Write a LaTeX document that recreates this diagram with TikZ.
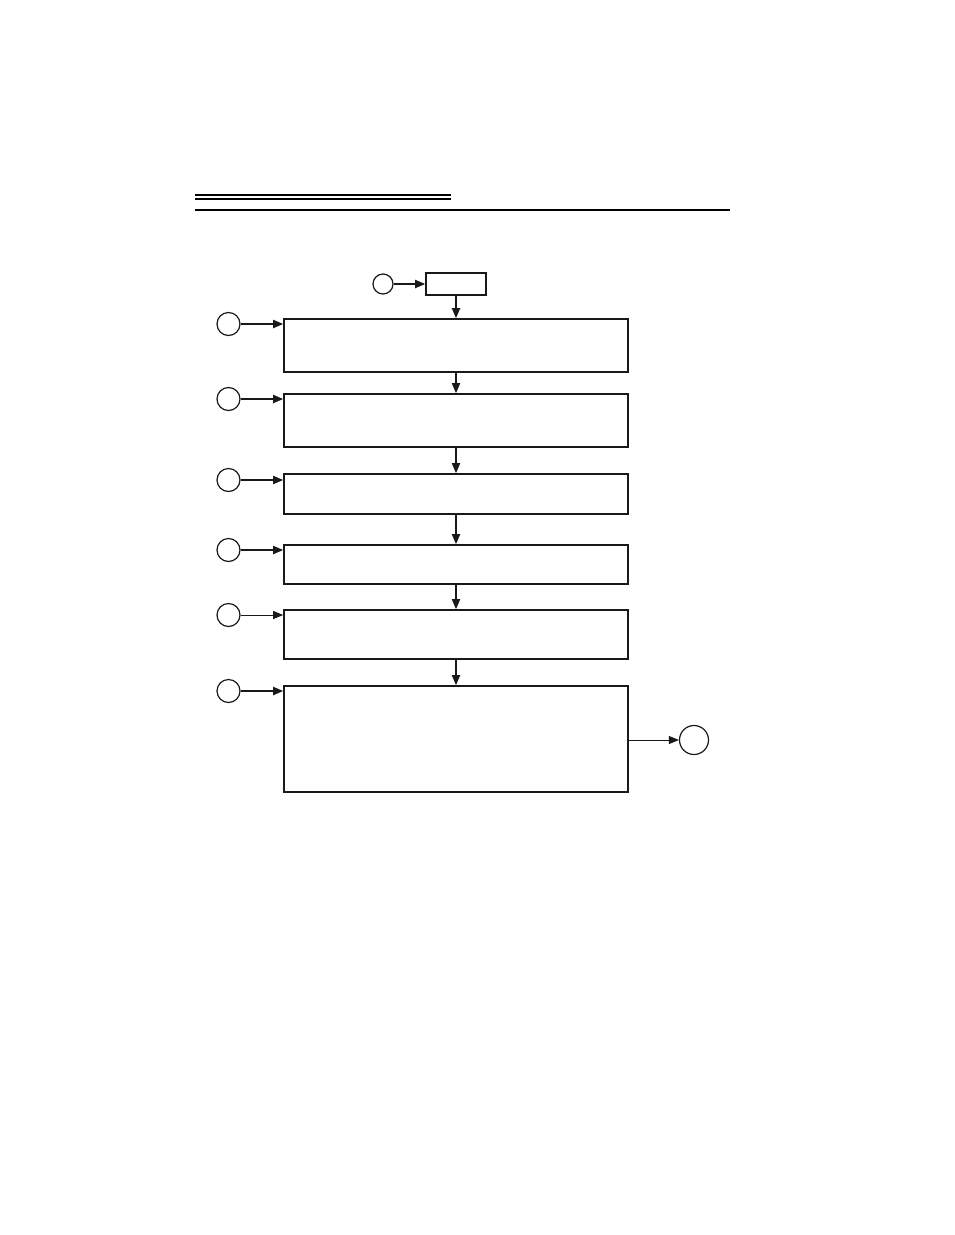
\documentclass[tikz,border=0pt]{standalone}
\usetikzlibrary{arrows.meta}
\begin{document}
\begin{tikzpicture}[x=1pt,y=-1pt,
  boxstyle/.style={draw=black!90,line width=1.6pt,fill=white},
  circ/.style={draw=black!90,line width=1.2pt,circle,inner sep=0pt},
  arr/.style={line width=1.8pt,draw=black!90,-{Triangle[length=10pt,width=8pt]}},
  tharr/.style={line width=0.9pt,draw=black!90,-{Triangle[length=10pt,width=8pt]}},
  rule/.style={line width=1.1pt,draw=black}]
\useasboundingbox (0,0) rectangle (954,1235);
% header rules
\coordinate (r1a) at (195,195); \coordinate (r1b) at (451,195);
\coordinate (r2a) at (195,199); \coordinate (r2b) at (451,199);
\coordinate (r3a) at (195,210); \coordinate (r3b) at (730,210);
\draw[rule] (r1a) -- (r1b);
\draw[rule] (r2a) -- (r2b);
\draw[rule] (r3a) -- (r3b);
% start
\node[boxstyle,minimum width=60pt,minimum height=22pt,inner sep=0pt] (s) at (456,284) {};
\node[circ,minimum size=20pt] (cs) at (383,284) {};
% boxes
\node[boxstyle,minimum width=344pt,minimum height=53pt,inner sep=0pt] (b1) at (456,345.5) {};
\node[boxstyle,minimum width=344pt,minimum height=53pt,inner sep=0pt] (b2) at (456,420.5) {};
\node[boxstyle,minimum width=344pt,minimum height=40pt,inner sep=0pt] (b3) at (456,494) {};
\node[boxstyle,minimum width=344pt,minimum height=39pt,inner sep=0pt] (b4) at (456,564.5) {};
\node[boxstyle,minimum width=344pt,minimum height=49pt,inner sep=0pt] (b5) at (456,634.5) {};
\node[boxstyle,minimum width=344pt,minimum height=106pt,inner sep=0pt] (b6) at (456,739) {};
% side circles
\node[circ,minimum size=23pt] (c1) at (228.5,324) {};
\node[circ,minimum size=23pt] (c2) at (228.5,399) {};
\node[circ,minimum size=23pt] (c3) at (228.5,480) {};
\node[circ,minimum size=23pt] (c4) at (228.5,550) {};
\node[circ,minimum size=23pt] (c5) at (228.5,615) {};
\node[circ,minimum size=23pt] (c6) at (228.5,691) {};
\node[circ,minimum size=29pt] (ce) at (694,740) {};
% connectors
\draw[arr] (cs) -- (s.west);
\draw[arr] (s) -- (b1);
\draw[arr] (b1) -- (b2);
\draw[arr] (b2) -- (b3);
\draw[arr] (b3) -- (b4);
\draw[arr] (b4) -- (b5);
\draw[arr] (b5) -- (b6);
\draw[arr] (c1.east) -- (c1.east -| b1.west);
\draw[arr] (c2.east) -- (c2.east -| b2.west);
\draw[arr] (c3.east) -- (c3.east -| b3.west);
\draw[arr] (c4.east) -- (c4.east -| b4.west);
\draw[tharr] (c5.east) -- (c5.east -| b5.west);
\draw[arr] (c6.east) -- (c6.east -| b6.west);
\draw[tharr] (b6.east |- ce.west) -- (ce.west);
\end{tikzpicture}
\end{document}
